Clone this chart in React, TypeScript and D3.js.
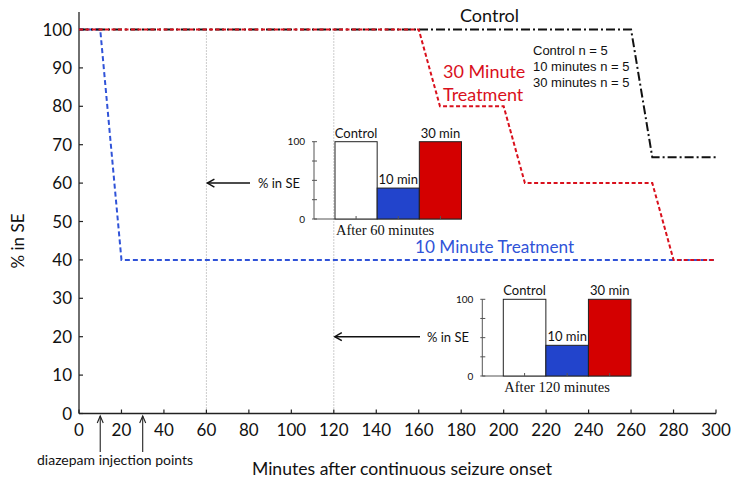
import React from "react";
import * as d3 from "d3";

// ---- data ----
const xTicks = [0, 20, 40, 60, 80, 100, 120, 140, 160, 180, 200, 220, 240, 260, 280, 300];
const yTicks = [0, 10, 20, 30, 40, 50, 60, 70, 80, 90, 100];
const controlSeries: [number, number][] = [[0, 100], [260, 100], [270, 66.7], [300, 66.7]];
const min30Series: [number, number][] = [[0, 100], [160, 100], [170, 80], [200, 80], [210, 60], [270, 60], [280, 40], [300, 40]];
const min10Series: [number, number][] = [[0, 100], [10, 100], [20, 40], [300, 40]];
const injectionPoints = [10, 30];
const markerTimes = [60, 120];
const markerLevels = [60, 20];
const insetCategories = ["Control", "10 min", "30 min"];
const after60Values = [100, 40, 100];
const after120Values = [100, 40, 100];
const insetTicks = [0, 25, 50, 75, 100];
const legendLines = ["Control n = 5", "10 minutes n = 5", "30 minutes n = 5"];

const SANS = "Lato, 'Open Sans', sans-serif";
const RED = "#d9101c";
const BLUE = "#3053d8";
const BAR_BLUE = "#2244cc";
const BAR_RED = "#d40000";

function Inset({ x0, yTop, yBot, barStart, barEnd, values, caption }: any) {
  const xb = d3.scaleBand<string>().domain(insetCategories).range([barStart, barEnd]).paddingInner(0);
  const yi = d3.scaleLinear().domain([0, 100]).range([yBot, yTop]);
  const colors = ["#ffffff", BAR_BLUE, BAR_RED];
  return (
    <g>
      <line x1={x0} x2={x0} y1={yTop} y2={yBot} stroke="#555" strokeWidth={1} />
      <line x1={x0} x2={barEnd} y1={yBot} y2={yBot} stroke="#555" strokeWidth={1} />
      {insetTicks.map((t) => (
        <line key={t} x1={x0 - 2} x2={x0 + 3} y1={yi(t)} y2={yi(t)} stroke="#555" strokeWidth={1} />
      ))}
      {[0, 100].map((t) => (
        <text key={t} x={x0 - 9} y={yi(t) + 3.5} textAnchor="end" fontSize={10} fontFamily={SANS} fill="#111">{t}</text>
      ))}
      {insetCategories.map((c, i) => (
        <g key={c}>
          <rect x={xb(c)!} y={yi(values[i])} width={xb.bandwidth()} height={yBot - yi(values[i])} fill={colors[i]} stroke="#222" strokeWidth={1} />
          <line x1={xb(c)! + xb.bandwidth() / 2} x2={xb(c)! + xb.bandwidth() / 2} y1={yBot} y2={yBot - 3} stroke="#555" />
          <text x={xb(c)! + xb.bandwidth() / 2} y={yi(values[i]) - 4} textAnchor="middle" fontSize={13} fontFamily={SANS} fill="#111">{c}</text>
        </g>
      ))}
      <text x={barStart + 1} y={yBot + 16} fontSize={14.5} fontFamily="'Liberation Serif', 'DejaVu Serif', serif" fill="#111">{caption}</text>
    </g>
  );
}

export default function App() {
  const W = 739, H = 485;
  const x = d3.scaleLinear().domain([0, 300]).range([79, 716]);
  const y = d3.scaleLinear().domain([0, 100]).range([413.5, 29.5]);
  const line = d3.line<[number, number]>().x((d) => x(d[0])).y((d) => y(d[1]));

  return (
    <svg width={W} height={H} style={{ position: "absolute", left: 0, top: 0, background: "#fff" }}>
      {/* vertical dotted markers */}
      {markerTimes.map((t) => (
        <line key={t} x1={x(t)} x2={x(t)} y1={y(100)} y2={y(0)} stroke="#999" strokeWidth={1} strokeDasharray="1,2" />
      ))}
      {/* axes */}
      <line x1={x(0)} x2={x(0)} y1={12} y2={y(0)} stroke="#222" strokeWidth={1.3} />
      <line x1={x(0)} x2={x(300)} y1={y(0)} y2={y(0)} stroke="#222" strokeWidth={1.3} />
      {yTicks.map((t) => (
        <g key={t}>
          <line x1={x(0)} x2={x(0) + 4} y1={y(t)} y2={y(t)} stroke="#222" strokeWidth={1.2} />
          <text x={x(0) - 7} y={y(t) + 6} textAnchor="end" fontSize={17} fontFamily={SANS} fill="#111">{t}</text>
        </g>
      ))}
      {xTicks.map((t) => (
        <g key={t}>
          <line x1={x(t)} x2={x(t)} y1={y(0)} y2={y(0) - 4} stroke="#222" strokeWidth={1.2} />
          <text x={x(t)} y={y(0) + 22} textAnchor="middle" fontSize={17} fontFamily={SANS} fill="#111">{t}</text>
        </g>
      ))}
      <text transform={`translate(24,241) rotate(-90)`} textAnchor="middle" fontSize={17} fontFamily={SANS} fill="#111">% in SE</text>
      <text x={402} y={475} textAnchor="middle" fontSize={17.6} fontFamily={SANS} fill="#111">Minutes after continuous seizure onset</text>

      {/* injection arrows */}
      {injectionPoints.map((t) => (
        <g key={t} stroke="#222" strokeWidth={1.1} fill="none">
          <line x1={x(t)} x2={x(t)} y1={452} y2={416} />
          <path d={`M${x(t) - 3},${423} L${x(t)},${416} L${x(t) + 3},${423}`} />
        </g>
      ))}
      <text x={37} y={465} fontSize={14} fontFamily={SANS} fill="#111">diazepam injection points</text>

      {/* series */}
      <path d={line(min10Series)!} fill="none" stroke={BLUE} strokeWidth={2} strokeDasharray="5,3" />
      <path d={line(controlSeries)!} fill="none" stroke="#111" strokeWidth={2} strokeDasharray="9,3,2,3" />
      <path d={line(min30Series)!} fill="none" stroke={RED} strokeWidth={2} strokeDasharray="4,2.5" />

      {/* series labels */}
      <text x={460} y={22} fontSize={18} fontFamily={SANS} fill="#111">Control</text>
      <text x={443} y={78} fontSize={18} fontFamily={SANS} fill={RED}>30 Minute</text>
      <text x={443} y={101} fontSize={18} fontFamily={SANS} fill={RED}>Treatment</text>
      <text x={415} y={253} fontSize={17.2} fontFamily={SANS} fill={BLUE}>10 Minute Treatment</text>
      {legendLines.map((s, i) => (
        <text key={s} x={533} y={55 + i * 15.8} fontSize={13} fontFamily="'Liberation Sans', Arial, sans-serif" fill="#111">{s}</text>
      ))}

      {/* arrows to markers */}
      {markerTimes.map((t, i) => {
        const yy = y(markerLevels[i]);
        const xEnd = i === 0 ? 250 : 420;
        return (
          <g key={t}>
            <g stroke="#111" strokeWidth={1.5} fill="none">
              <line x1={x(t) + 1} x2={xEnd} y1={yy} y2={yy} />
              <path d={`M${x(t) + 8},${yy - 4} L${x(t) + 1},${yy} L${x(t) + 8},${yy + 4}`} />
            </g>
            <text x={i === 0 ? 258 : 427} y={yy + 5} fontSize={13} fontFamily={SANS} fill="#111">% in SE</text>
          </g>
        );
      })}

      <Inset x0={314} yTop={141.7} yBot={219} barStart={335} barEnd={461.5} values={after60Values} caption="After 60 minutes" />
      <Inset x0={482.3} yTop={299.3} yBot={376} barStart={503.3} barEnd={631} values={after120Values} caption="After 120 minutes" />
    </svg>
  );
}
